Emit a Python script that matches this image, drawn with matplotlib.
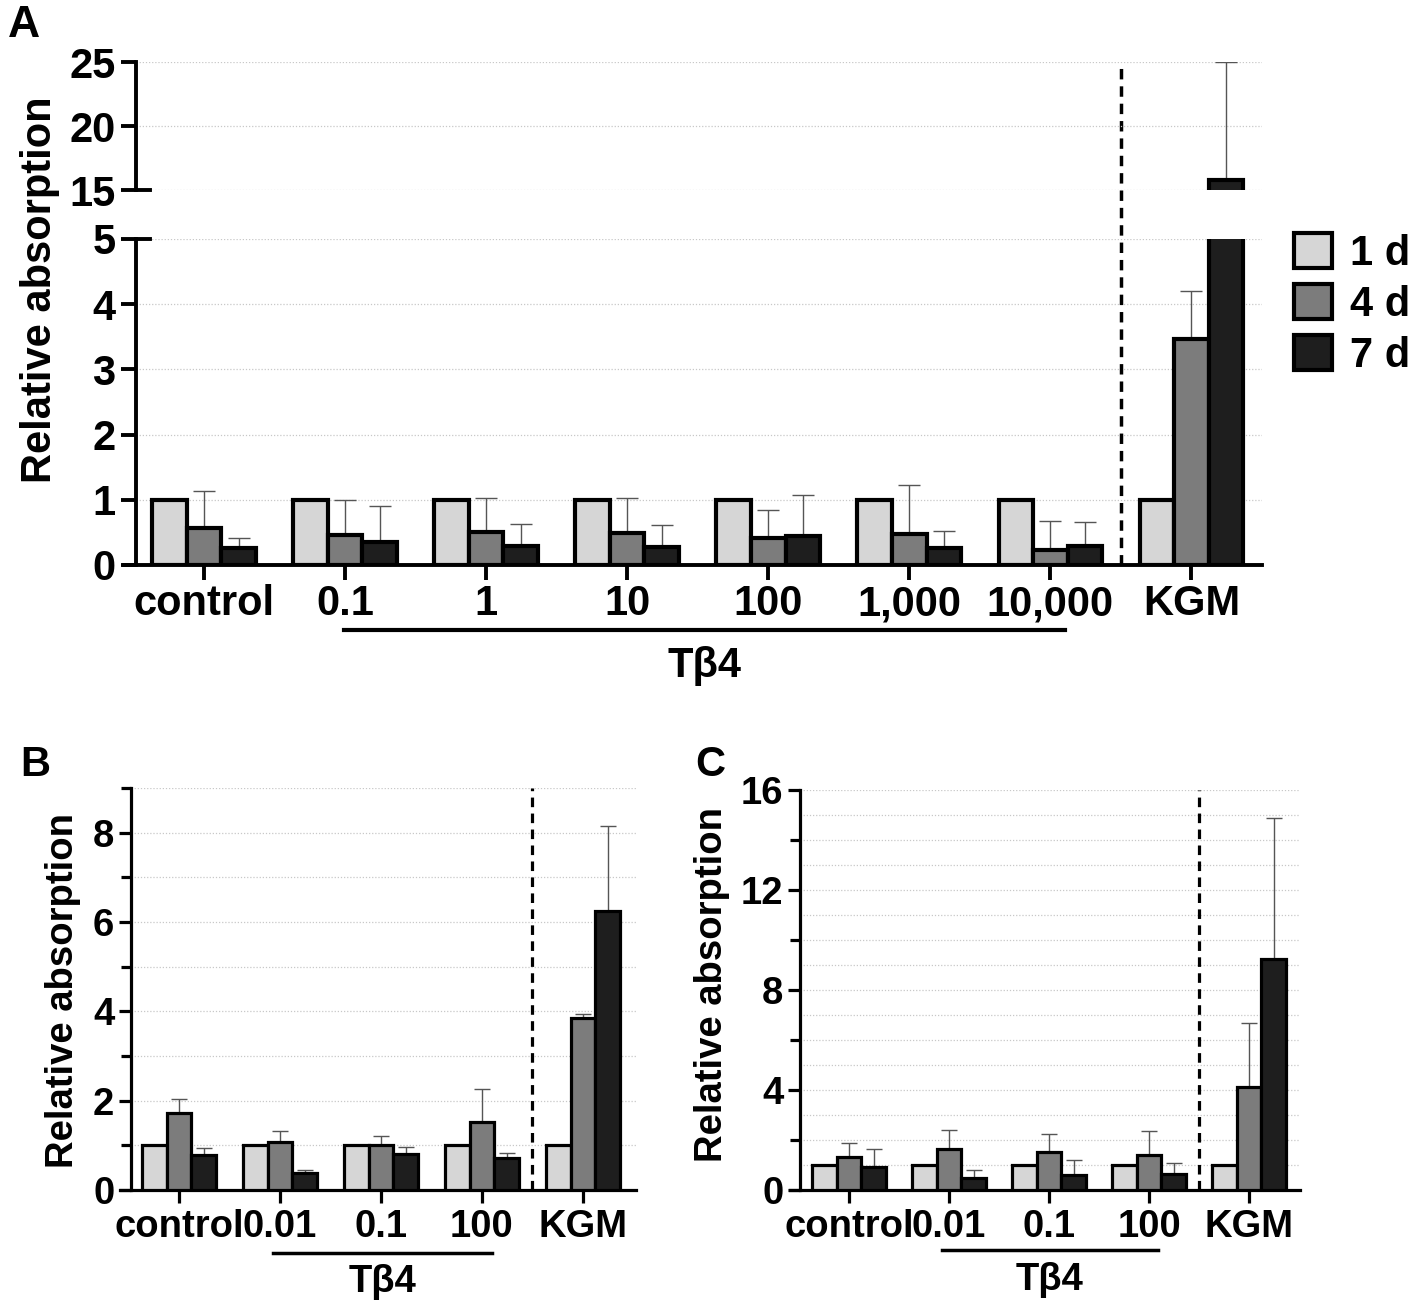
import matplotlib
matplotlib.use("Agg")
import matplotlib.pyplot as plt
import numpy as np
from matplotlib.patches import Patch
from matplotlib.transforms import blended_transform_factory

plt.rcParams["font.family"] = ["Liberation Sans", "DejaVu Sans"]
plt.rcParams["font.weight"] = "bold"

# ---- data ----
series = ["1 d", "4 d", "7 d"]
colors = ["#d6d6d6", "#7c7c7c", "#1e1e1e"]

groups_a = ["control", "0.1", "1", "10", "100", "1,000", "10,000", "KGM"]
a_1d = [1.0, 1.0, 1.0, 1.0, 1.0, 1.0, 1.0, 1.0]
a_4d = [0.57, 0.46, 0.51, 0.49, 0.42, 0.48, 0.23, 3.47]
a_4d_sd = [0.56, 0.53, 0.51, 0.53, 0.43, 0.75, 0.44, 0.74]
a_7d = [0.26, 0.35, 0.29, 0.27, 0.45, 0.26, 0.29, 15.75]
a_7d_sd = [0.16, 0.55, 0.34, 0.34, 0.62, 0.26, 0.37, 9.25]

groups_bc = ["control", "0.01", "0.1", "100", "KGM"]
b_1d = [1.0, 1.0, 1.0, 1.0, 1.0]
b_4d = [1.73, 1.08, 1.01, 1.53, 3.84]
b_4d_sd = [0.31, 0.25, 0.20, 0.74, 0.09]
b_7d = [0.79, 0.38, 0.81, 0.72, 6.25]
b_7d_sd = [0.15, 0.07, 0.15, 0.11, 1.89]

c_1d = [1.0, 1.0, 1.0, 1.0, 1.0]
c_4d = [1.32, 1.63, 1.52, 1.40, 4.14]
c_4d_sd = [0.58, 0.77, 0.72, 0.96, 2.55]
c_7d = [0.91, 0.50, 0.61, 0.64, 9.25]
c_7d_sd = [0.73, 0.29, 0.61, 0.46, 5.62]

W, H = 1418, 1315
fig = plt.figure(figsize=(W / 100, H / 100), dpi=100)


def px_axes(x0, x1, y_top, y_bot):
    ax = fig.add_axes([x0 / W, 1 - y_bot / H, (x1 - x0) / W, (y_bot - y_top) / H])
    ax.patch.set_visible(False)
    return ax


def draw_bars(ax, vals, sds, lw, cap):
    x = np.arange(len(vals[0]))
    bw = 0.245
    for i, (v, c) in enumerate(zip(vals, colors)):
        xi = x + (i - 1) * bw
        ax.bar(xi, v, width=bw, color=c, edgecolor="black", linewidth=lw, zorder=3)
        if sds[i] is not None:
            ax.errorbar(xi, v, yerr=[np.zeros(len(v)), sds[i]], fmt="none",
                        ecolor="#555555", elinewidth=1, capsize=cap, capthick=1, zorder=2)


def style_axes(ax, spine_x, xlim, lw, tick_len):
    ax.set_xlim(*xlim)
    for s in ["top", "right"]:
        ax.spines[s].set_visible(False)
    ax.spines["left"].set_position(("data", spine_x))
    ax.spines["left"].set_linewidth(lw)
    ax.spines["bottom"].set_linewidth(lw)
    ax.tick_params(axis="both", width=lw, length=tick_len, direction="out")
    ax.tick_params(axis="y", which="minor", width=lw, length=tick_len * 0.8)


def grid(ax, levels, spine_x, xmax):
    ax.hlines(levels, spine_x, xmax, colors="#c8c8c8", linestyles=(0, (1, 1.5)),
              linewidth=0.9, zorder=0)


# ---------------- panel A ----------------
xlim_a = (-0.567, 7.50)
sp_a = -0.48
axA = px_axes(124, 1262, 239, 565)
axT = px_axes(124, 1262, 62, 190)

for ax in (axA, axT):
    draw_bars(ax, [a_1d, a_4d, a_7d], [None, a_4d_sd, a_7d_sd], 3.0, 8)
    style_axes(ax, sp_a, xlim_a, 2.8, 11)

axA.set_ylim(0, 5)
axA.set_yticks(range(0, 6))
grid(axA, range(1, 6), sp_a, xlim_a[1])
axA.set_xticks(range(len(groups_a)))
axA.set_xticklabels(groups_a, fontsize=30, fontweight="bold")
axA.tick_params(axis="y", labelsize=30, pad=4)
axA.tick_params(axis="x", pad=3)

axT.set_ylim(15, 25)
axT.set_yticks([15, 20, 25])
grid(axT, [15, 20, 25], sp_a, xlim_a[1])
axT.spines["bottom"].set_visible(False)
axT.set_xticks([])
axT.tick_params(axis="y", labelsize=30, pad=4)

# axis-break marks
axT.plot([sp_a, sp_a + 0.1], [15, 15], color="black", lw=2.8, clip_on=False, zorder=5)
axA.plot([sp_a, sp_a + 0.1], [5, 5], color="black", lw=2.8, clip_on=False, zorder=5)

# dashed separator across both segments
trA = blended_transform_factory(axA.transData, fig.transFigure)
axA.plot([6.5, 6.5], [1 - 565 / H, 1 - 62 / H], transform=trA, color="black",
         lw=2.5, ls=(0, (3, 2)), clip_on=False, zorder=4)

trA2 = blended_transform_factory(axA.transData, axA.transAxes)
axA.plot([0.99, 6.1], [-0.2, -0.2], transform=trA2, color="black", lw=3, clip_on=False)
axA.text(3.545, -0.31, "Tβ4", transform=trA2, ha="center", va="center",
         fontsize=30, fontweight="bold")

fig.text(40 / W, 1 - 290 / H, "Relative absorption", rotation=90, ha="center",
         va="center", fontsize=30, fontweight="bold")
fig.text(8 / W, 1 - 5 / H, "A", ha="left", va="top", fontsize=32, fontweight="bold")

handles = [Patch(facecolor=c, edgecolor="black", linewidth=3) for c in colors]
fig.legend(handles, series, loc="upper left", bbox_to_anchor=(1294 / W, 1 - 233 / H),
           frameon=False, handlelength=0.9, handleheight=0.9,
           handletextpad=0.45, labelspacing=0.25, borderaxespad=0, borderpad=0,
           prop={"weight": "bold", "size": 30})


# ---------------- panels B and C ----------------
def small_panel(rect, xlim, spine_x, vals, sds, ymax, major, minor, letter, letter_xy,
                ylab_xy, line_x, line_y, tb_y):
    ax = px_axes(*rect)
    draw_bars(ax, vals, sds, 2.3, 6)
    style_axes(ax, spine_x, xlim, 2.3, 9)
    ax.set_ylim(0, ymax)
    ax.set_yticks(major)
    ax.set_yticks(minor, minor=True)
    grid(ax, range(1, ymax + 1), spine_x, xlim[1])
    ax.set_xticks(range(len(groups_bc)))
    ax.set_xticklabels(groups_bc, fontsize=27.5, fontweight="bold")
    ax.tick_params(axis="y", labelsize=27.5, pad=3)
    ax.tick_params(axis="x", pad=5)
    tr = blended_transform_factory(ax.transData, fig.transFigure)
    ax.plot([3.5, 3.5], [1 - 1190 / H, 1 - rect[2] / H], transform=tr, color="black",
            lw=2.3, ls=(0, (3, 2)), clip_on=False, zorder=4)
    tr2 = blended_transform_factory(ax.transData, ax.transAxes)
    ax.plot(line_x, [line_y, line_y], transform=tr2, color="black", lw=2.5, clip_on=False)
    ax.text(np.mean(line_x), tb_y, "Tβ4", transform=tr2, ha="center", va="center",
            fontsize=27.5, fontweight="bold")
    fig.text(ylab_xy[0] / W, 1 - ylab_xy[1] / H, "Relative absorption", rotation=90,
             ha="center", va="center", fontsize=27.5, fontweight="bold")
    fig.text(letter_xy[0] / W, 1 - letter_xy[1] / H, letter, ha="left", va="top",
             fontsize=30, fontweight="bold")
    return ax


small_panel((120, 636, 788, 1190), (-0.584, 4.525), -0.475,
            [b_1d, b_4d, b_7d], [None, b_4d_sd, b_7d_sd], 9,
            [0, 2, 4, 6, 8], [1, 3, 5, 7, 9], "B", (20, 745), (63, 990),
            [0.93, 3.10], -0.157, -0.228)

small_panel((790, 1300, 790, 1190), (-0.59, 4.51), -0.49,
            [c_1d, c_4d, c_7d], [None, c_4d_sd, c_7d_sd], 16,
            [0, 4, 8, 12, 16], [2, 6, 10, 14], "C", (695, 745), (712, 985),
            [0.93, 3.09], -0.15, -0.225)

fig.savefig("out.png", dpi=100)
